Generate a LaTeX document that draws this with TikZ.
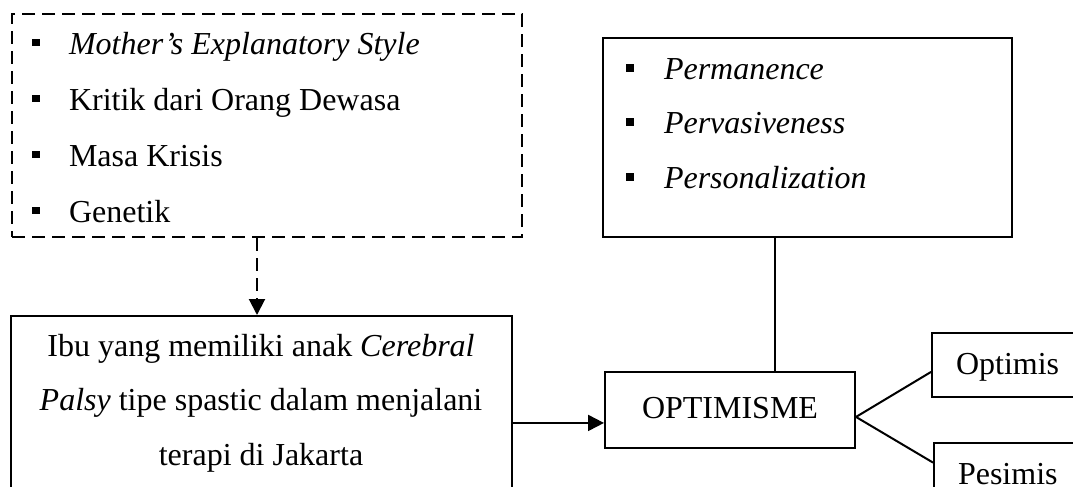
\documentclass[tikz,border=0pt]{standalone}
\usepackage{fontspec}
\setmainfont{Liberation Serif}
\usetikzlibrary{arrows.meta,fit}

\begin{document}
\begin{tikzpicture}[x=0.375pt,y=-0.375pt,line width=0.75pt,
    every node/.style={font=\fontsize{12}{14}\selectfont},
    kotak/.style={draw,inner sep=0pt},
    putus/.style={dash pattern=on 4.9pt off 2.6pt},
    poin/.style={fill=black,inner sep=0pt,minimum size=2.9pt},
    teks/.style={anchor=base west,inner sep=0pt},
    tengah/.style={anchor=base,inner sep=0pt},
    panah/.style={-{Triangle[length=6pt,width=6pt]}}]
      \useasboundingbox (0,0) rectangle (1073,486);

      % Kotak-kotak.
      \node[kotak,putus,fit={(12,14) (522,237)}] (faktor) {};
      \node[kotak,fit={(603,38) (1012,237)}] (dimensi) {};
      \node[kotak,fit={(11,316) (512,500)}] (ibu) {};
      \node[kotak,fit={(605,372) (855,448)}] (optimisme) {};
      \node[kotak,fit={(932,333) (1090,397)}] (optimis) {};
      \node[kotak,fit={(934,443) (1090,520)}] (pesimis) {};

      % Faktor yang mempengaruhi.
      \node[poin] (f1) at (36,42.5) {};
      \node[poin] (f2) at (36,98.5) {};
      \node[poin] (f3) at (36,154.5) {};
      \node[poin] (f4) at (36,210.5) {};
      \node[teks] (tf1) at (68,54) {\textit{Mother’s Explanatory Style}};
      \node[teks] (tf2) at (68,110) {Kritik dari Orang Dewasa};
      \node[teks] (tf3) at (68,166) {Masa Krisis};
      \node[teks] (tf4) at (68,222) {Genetik};

      % Dimensi optimisme.
      \node[poin] (d1) at (630,68) {};
      \node[poin] (d2) at (630,122) {};
      \node[poin] (d3) at (630,177) {};
      \node[teks] (td1) at (663,79) {\textit{Permanence}};
      \node[teks] (td2) at (663,133) {\textit{Pervasiveness}};
      \node[teks] (td3) at (663,188) {\textit{Personalization}};

      % Subjek.
      \node[tengah] (ti1) at (261,356) {Ibu yang memiliki anak \textit{Cerebral}};
      \node[tengah] (ti2) at (261,410) {\textit{Palsy} tipe spastic dalam menjalani};
      \node[tengah] (ti3) at (261,465) {terapi di Jakarta};

      \node[tengah] (to) at (730,418) {OPTIMISME};
      \node[teks] (top) at (955,374) {Optimis};
      \node[teks] (tps) at (957,484) {Pesimis};

      % Garis penghubung.
      \coordinate (ujungfaktor) at ([xshift=-3.75pt]faktor.south);
      \coordinate (ujungibu) at ([yshift=-5.6pt]ibu.east);
      \coordinate (ujungdimensi) at ([xshift=-12.2pt]dimensi.south);
      \coordinate (cabang) at ([yshift=-2.6pt]optimisme.east);
      \draw[putus,panah] (ujungfaktor) -- (ujungfaktor |- ibu.north);
      \draw[panah] (ujungibu) -- (ujungibu -| optimisme.west);
      \draw (ujungdimensi) -- (ujungdimensi |- optimisme.north);
      \draw (cabang) -- ([yshift=-2.6pt]optimis.west);
      \draw (cabang) -- ([yshift=7.1pt]pesimis.west);
    \end{tikzpicture}
\end{document}
